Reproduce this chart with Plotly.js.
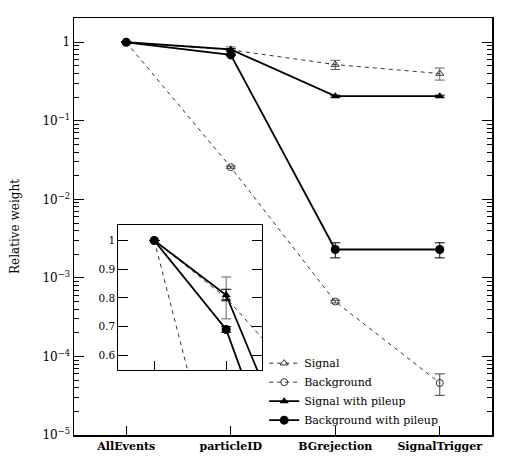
<!DOCTYPE html>
<html>
<head>
<meta charset="utf-8">
<script src="https://cdn.plot.ly/plotly-3.0.1.min.js"></script>
<style>html,body{margin:0;padding:0;background:#fff;}#chart{width:523px;height:473px;}</style>
</head>
<body>
<div id="chart"></div>
<script>
// ---- data ----
const categories = ['AllEvents', 'particleID', 'BGrejection', 'SignalTrigger'];
const signal = [1, 0.80, 0.52, 0.40];
const signalErr = [0, 0.073, 0.07, 0.07];
const background = [1, 0.0257, 0.00050, 0.000046];
const backgroundErr = [0, 0.0008, 0.00002, 0.000014];
const signalPileup = [1, 0.81, 0.206, 0.206];
const signalPileupErr = [0, 0.02, 0.006, 0.006];
const backgroundPileup = [1, 0.69, 0.0023, 0.0023];
const backgroundPileupErr = [0, 0.01, 0.0005, 0.0005];
const seriesNames = ['Signal', 'Background', 'Signal with pileup', 'Background with pileup'];
const yTickVals = [1e-5, 1e-4, 1e-3, 1e-2, 1e-1, 1];
const yTickText = ['10<sup>\u22125</sup>', '10<sup>\u22124</sup>', '10<sup>\u22123</sup>', '10<sup>\u22122</sup>', '10<sup>\u22121</sup>', '1'];
const insetTickVals = [0.6, 0.7, 0.8, 0.9, 1];
const insetTickText = ['0.6', '0.7', '0.8', '0.9', '1'];

// minor tick positions (2..9 per decade)
const minorVals = [];
for (let e = -5; e <= 0; e++) for (let m = 2; m <= 9; m++) minorVals.push(m * Math.pow(10, e));

const FONT = '"DejaVu Serif", "Liberation Serif", serif';

function styleFor(i) {
  const dashed = {color: '#333', width: 1, dash: '4px,4px'};
  const solid = {color: '#000', width: 1.8};
  return [
    {line: dashed, marker: {symbol: 'triangle-up-open', size: 7, color: '#333', line: {width: 1, color: '#333'}}, err: '#666'},
    {line: dashed, marker: {symbol: 'circle-open', size: 7, color: '#333', line: {width: 1, color: '#333'}}, err: '#444'},
    {line: solid, marker: {symbol: 'triangle-up', size: 8, color: '#000'}, err: '#000'},
    {line: solid, marker: {symbol: 'circle', size: 9, color: '#000'}, err: '#000'}
  ][i];
}

const ys = [signal, background, signalPileup, backgroundPileup];
const errs = [signalErr, backgroundErr, signalPileupErr, backgroundPileupErr];
const traces = [];
[0, 1, 2, 3].forEach(i => {
  const s = styleFor(i);
  traces.push({
    type: 'scatter', mode: 'lines+markers', name: seriesNames[i],
    x: categories, y: ys[i],
    line: s.line, marker: s.marker,
    error_y: {type: 'data', array: errs[i], visible: true, color: s.err, thickness: 1, width: 5},
    xaxis: 'x', yaxis: 'y', showlegend: true
  });
});
[0, 1, 2, 3].forEach(i => {
  const s = styleFor(i);
  traces.push({
    type: 'scatter', mode: 'lines+markers', name: seriesNames[i],
    x: categories, y: ys[i],
    line: s.line, marker: s.marker,
    error_y: {type: 'data', array: errs[i], visible: true, color: s.err, thickness: 1, width: 5},
    xaxis: 'x2', yaxis: 'y2', showlegend: false
  });
});

const layout = {
  width: 523, height: 473,
  margin: {l: 74, r: 31, t: 18, b: 38},
  paper_bgcolor: '#fff', plot_bgcolor: '#fff',
  font: {family: FONT, size: 11, color: '#000'},
  showlegend: true,
  legend: {x: 0.455, y: 0.207, xanchor: 'left', yanchor: 'top', bgcolor: 'rgba(0,0,0,0)',
           font: {family: FONT, size: 11}, tracegroupgap: 0, itemwidth: 30},
  xaxis: {
    type: 'category', range: [-0.5, 3.5], domain: [0, 1],
    showline: true, linecolor: '#000', linewidth: 1.5, mirror: true,
    ticks: 'inside', ticklen: 9, tickcolor: '#000', tickwidth: 1,
    showgrid: false, zeroline: false, fixedrange: true,
    tickfont: {family: FONT, size: 11, weight: 'bold'}
  },
  yaxis: {
    type: 'log', range: [-5, 0.309], domain: [0, 1],
    showline: true, linecolor: '#000', linewidth: 1.5, mirror: 'ticks',
    ticks: 'inside', ticklen: 10, tickcolor: '#000', tickwidth: 1,
    tickmode: 'array', tickvals: yTickVals, ticktext: yTickText,
    minor: {tickmode: 'array', tickvals: minorVals, ticks: 'inside', ticklen: 5, tickcolor: '#000', showgrid: false},
    showgrid: false, zeroline: false,
    tickfont: {family: FONT, size: 12},
    title: {text: 'Relative weight', font: {family: FONT, size: 12}, standoff: 20}
  },
  xaxis2: {
    type: 'category', range: [-0.5, 1.5], domain: [0.106, 0.450], anchor: 'y2',
    showline: true, linecolor: '#000', linewidth: 1, mirror: true,
    ticks: 'inside', ticklen: 9, tickcolor: '#000', showticklabels: false,
    showgrid: false, zeroline: false
  },
  yaxis2: {
    range: [0.549, 1.053], domain: [0.156, 0.503], anchor: 'x2',
    showline: true, linecolor: '#000', linewidth: 1, mirror: 'ticks',
    ticks: 'inside', ticklen: 10, tickcolor: '#000',
    tickmode: 'array', tickvals: insetTickVals, ticktext: insetTickText,
    showgrid: false, zeroline: false,
    tickfont: {family: FONT, size: 10.5}
  }
};

Plotly.newPlot('chart', traces, layout, {staticPlot: true, displayModeBar: false});
</script>
</body>
</html>
